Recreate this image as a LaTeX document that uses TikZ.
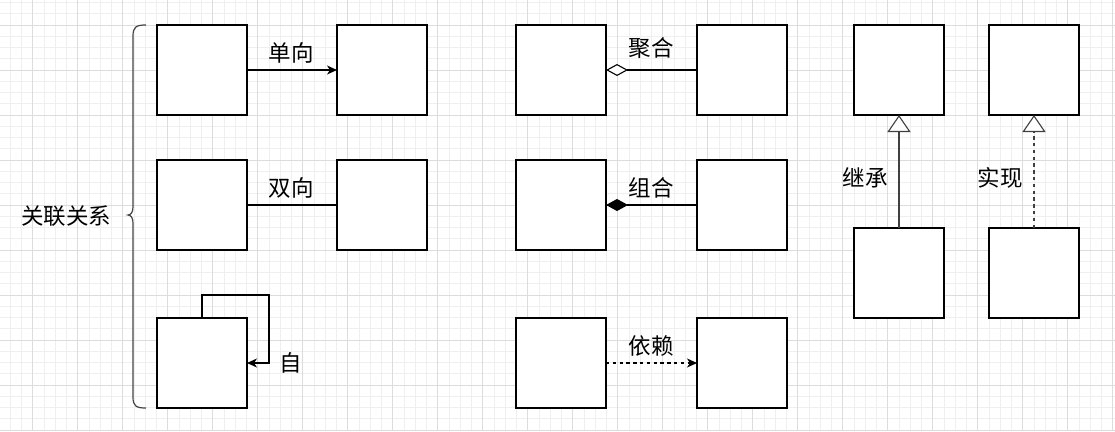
\documentclass[tikz,border=0pt]{standalone}
\usepackage{fontspec}
\newfontfamily\cjk{Noto Sans CJK SC}
\usetikzlibrary{arrows.meta}
\definecolor{gridminor}{HTML}{EFEFEF}
\definecolor{gridmajor}{HTML}{DCDCDC}
\definecolor{brace}{HTML}{444444}
\tikzset{
  box/.style={draw=black, fill=white, line width=1.1pt, minimum width=90pt, minimum height=90pt, inner sep=0pt, outer sep=0pt},
  lbl/.style={font=\cjk\fontsize{22.5}{26}\selectfont, inner sep=0pt},
  conn/.style={line width=1.1pt, draw=black},
  solidarrow/.style={conn, -{Stealth[length=10pt, width=9pt, inset=3pt]}},
  dasharr/.style={conn, dash pattern=on 3.4pt off 3.4pt, -{Stealth[length=10pt, width=9pt, inset=3pt]}},
  aggr/.style={conn, {Diamond[length=22pt, width=12pt, fill=white]}-},
  compo/.style={conn, {Diamond[length=22pt, width=12pt, fill=black]}-},
  inherit/.style={conn, draw=black!75, -{Triangle[length=17pt, width=23pt, fill=white]}},
  realize/.style={conn, draw=black!75, dash pattern=on 3.4pt off 3.4pt, -{Triangle[length=17pt, width=23pt, fill=white]}},
}
\begin{document}
\begin{tikzpicture}[x=1pt, y=-1pt]
\useasboundingbox (0,0) rectangle (1115,431);
\fill[white] (0,0) rectangle (1115,431);
% grid
\foreach \k in {0,...,100} {
  \draw[gridminor, line width=0.8pt] ({-1.05+11.25*\k},0) -- ({-1.05+11.25*\k},431);
}
\foreach \k in {0,...,38} {
  \draw[gridminor, line width=0.8pt] (0,{2.5+11.25*\k}) -- (1115,{2.5+11.25*\k});
}
\foreach \k in {0,...,24} {
  \draw[gridmajor, line width=0.8pt] ({32.7+45*\k},0) -- ({32.7+45*\k},431);
}
\foreach \k in {0,...,9} {
  \draw[gridmajor, line width=0.8pt] (0,{25+45*\k}) -- (1115,{25+45*\k});
}
% brace
\draw[brace, line width=1.2pt] (146,25) .. controls (136,25) and (133,27) .. (133,36) -- (133,207)
  .. controls (133,212) and (131,215) .. (128,215)
  .. controls (131,215) and (133,218) .. (133,223) -- (133,397)
  .. controls (133,406) and (136,408) .. (146,408);
\node[lbl] (assoc) at (66,216) {关联关系};
% column 1 & 2
\node[box] (a1) at (202,70) {};
\node[box] (b1) at (382,70) {};
\node[box] (a2) at (202,205) {};
\node[box] (b2) at (382,205) {};
\node[box] (a3) at (202,363) {};
\draw[solidarrow] (a1.east) -- (b1.west);
\node[lbl] (t1) at (291,53) {单向};
\draw[conn] (a2.east) -- (b2.west);
\node[lbl] (t2) at (291,188) {双向};
\coordinate (loop) at (269,295);
\draw[solidarrow] (a3.north) |- (loop) |- (a3.east);
\node[lbl] (t3) at (291,363) {自};
% column 3 & 4
\node[box] (c1) at (561,70) {};
\node[box] (d1) at (742,70) {};
\node[box] (c2) at (561,205) {};
\node[box] (d2) at (742,205) {};
\node[box] (c3) at (561,363) {};
\node[box] (d3) at (742,363) {};
\draw[aggr] (c1.east) -- (d1.west);
\node[lbl] (t4) at (651,48) {聚合};
\draw[compo] (c2.east) -- (d2.west);
\node[lbl] (t5) at (651,188) {组合};
\draw[dasharr] (c3.east) -- (d3.west);
\node[lbl] (t6) at (651,346) {依赖};
% column 5 & 6
\node[box] (e1) at (899,70) {};
\node[box] (e2) at (899,273) {};
\node[box] (f1) at (1034,70) {};
\node[box] (f2) at (1034,273) {};
\draw[inherit] (e2.north) -- (e1.south);
\node[lbl] (t7) at (865,178) {继承};
\draw[realize] (f2.north) -- (f1.south);
\node[lbl] (t8) at (1000,178) {实现};
\end{tikzpicture}
\end{document}
